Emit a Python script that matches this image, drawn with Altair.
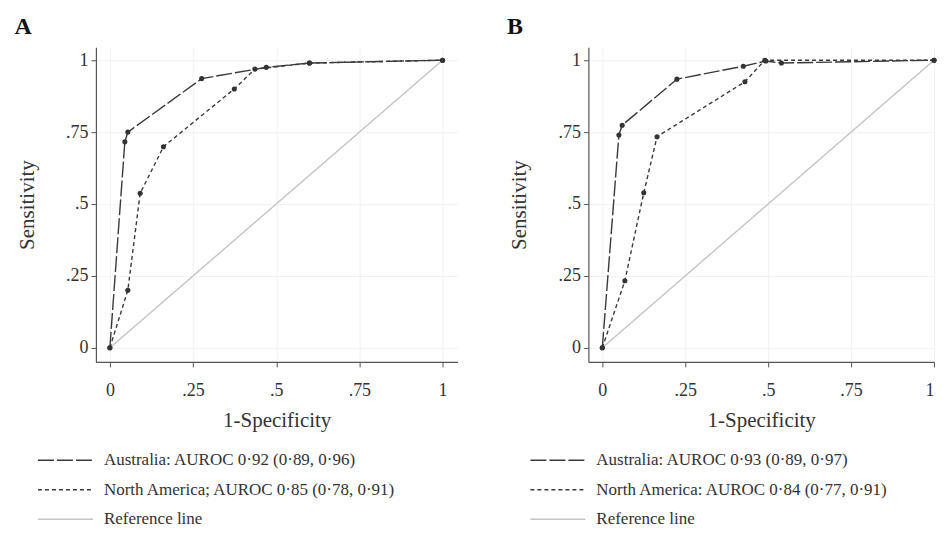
import altair as alt
import pandas as pd

# ---------------- data ----------------
names_a = ["Australia: AUROC 0·92 (0·89, 0·96)",
           "North America; AUROC 0·85 (0·78, 0·91)",
           "Reference line"]
names_b = ["Australia: AUROC 0·93 (0·89, 0·97)",
           "North America: AUROC 0·84 (0·77, 0·91)",
           "Reference line"]

a_aus_x = [0, 0.045, 0.054, 0.276, 0.47, 0.60, 1.0]
a_aus_y = [0, 0.716, 0.750, 0.936, 0.975, 0.990, 1.0]
a_na_x = [0, 0.054, 0.091, 0.161, 0.374, 0.436, 0.60, 1.0]
a_na_y = [0, 0.200, 0.537, 0.699, 0.900, 0.969, 0.990, 1.0]

b_aus_x = [0, 0.050, 0.060, 0.225, 0.425, 0.493, 0.54, 1.0]
b_aus_y = [0, 0.740, 0.774, 0.934, 0.979, 0.997, 0.99, 1.0]
b_na_x = [0, 0.068, 0.125, 0.165, 0.430, 0.490, 1.0]
b_na_y = [0, 0.233, 0.539, 0.734, 0.925, 1.000, 1.0]

ref_x = [0, 1]
ref_y = [0, 1]

tick_vals = [0, 0.25, 0.5, 0.75, 1]

FONT = "Liberation Serif"
INK = "#333333"


def make_df(names, aus_x, aus_y, na_x, na_y):
    rows = []
    for x, y in zip(aus_x, aus_y):
        rows.append({"x": x, "y": y, "series": names[0], "marker": True})
    for x, y in zip(na_x, na_y):
        rows.append({"x": x, "y": y, "series": names[1], "marker": True})
    for x, y in zip(ref_x, ref_y):
        rows.append({"x": x, "y": y, "series": names[2], "marker": False})
    return pd.DataFrame(rows)


lbl = "datum.value == 0 ? '0' : datum.value == 1 ? '1' : replace(format(datum.value, '.2~f'), '0.', '.')"


def legend():
    return alt.Legend(title=None, orient="none", legendX=-59, legendY=405,
                      direction="vertical", symbolType="stroke", symbolSize=3025,
                      symbolStrokeWidth=1.4, labelFont=FONT, labelFontSize=17,
                      labelColor=INK, labelOffset=10, clipHeight=17,
                      rowPadding=11.5, labelLimit=500)


def panel(df, names, letter, width, xmax):
    xs = alt.X("x:Q", scale=alt.Scale(domain=[-0.042, xmax], nice=False, zero=False),
               axis=alt.Axis(values=tick_vals, labelExpr=lbl, title="1-Specificity",
                             titleFontSize=21, titlePadding=10, labelPadding=15, labelFontSize=18,
                             tickSize=5, grid=True))
    ys = alt.Y("y:Q", scale=alt.Scale(domain=[-0.049, 1.045], nice=False, zero=False),
               axis=alt.Axis(values=tick_vals, labelExpr=lbl, title="Sensitivity",
                             titleFontSize=21, titlePadding=28, labelPadding=3, labelFontSize=18,
                             tickSize=5, grid=True))
    lines = alt.Chart(df).mark_line(strokeWidth=1.4).encode(
        x=xs, y=ys,
        color=alt.Color("series:N", scale=alt.Scale(domain=names, range=["#3a3a3a", "#3a3a3a", "#c4c4c4"]),
                        legend=legend()),
        strokeDash=alt.StrokeDash("series:N", scale=alt.Scale(domain=names, range=[[16, 3], [4, 3], [1, 0]]),
                                  legend=legend()),
        order="x:Q",
    )
    pts = alt.Chart(df).transform_filter("datum.marker").mark_point(
        filled=True, size=26, color=INK, opacity=1).encode(x="x:Q", y="y:Q")
    return alt.layer(lines, pts).properties(
        width=width, height=315,
        title=alt.TitleParams(letter, anchor="start", font=FONT, fontSize=24, fontWeight="bold",
                              color="#111", dx=-2, offset=8),
    )


pa = panel(make_df(names_a, a_aus_x, a_aus_y, a_na_x, a_na_y), names_a, "A", 362, 1.045)
pb = panel(make_df(names_b, b_aus_x, b_aus_y, b_na_x, b_na_y), names_b, "B", 346, 1.0)

chart = alt.hconcat(pa, pb, spacing=49).resolve_scale(
    color="independent", strokeDash="independent").resolve_legend(
    color="independent", strokeDash="independent").configure(
    font=FONT, padding={"left": 6, "top": 7, "right": 0, "bottom": 0}
).configure_axis(
    labelFont=FONT, titleFont=FONT, labelColor=INK, titleColor=INK,
    domainColor="#555", tickColor="#555", domainWidth=1.2, gridColor="#f1f1f1",
    titleFontWeight="normal"
).configure_view(stroke=None)

chart.save("out.html", embed_options={"renderer": "svg", "actions": False})
